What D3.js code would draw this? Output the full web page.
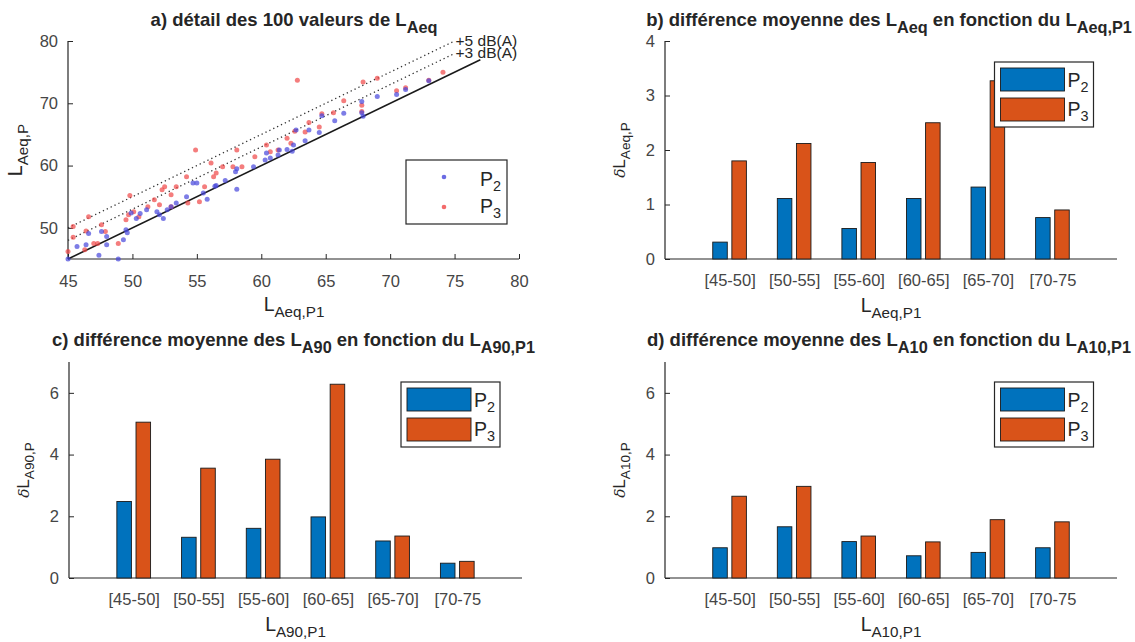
<!DOCTYPE html>
<html><head><meta charset="utf-8">
<script src="https://cdn.jsdelivr.net/npm/d3@7"></script>
<style>
body{margin:0;background:#fff;}
svg{display:block;font-family:"Liberation Sans",Arial,Helvetica,sans-serif;}
</style></head>
<body>
<svg id="chart" width="1135" height="642"></svg>
<script>
// ---------- DATA ----------
const categories = ["[45-50]","[50-55]","[55-60]","[60-65]","[65-70]","[70-75"];
const seriesNames = ["P2","P3"];
const b_P2 = [0.31,1.11,0.56,1.11,1.32,0.76];
const b_P3 = [1.80,2.12,1.77,2.50,3.27,0.90];
const c_P2 = [2.48,1.32,1.61,1.98,1.20,0.48];
const c_P3 = [5.05,3.56,3.85,6.28,1.36,0.54];
const d_P2 = [0.98,1.66,1.18,0.72,0.83,0.98];
const d_P3 = [2.65,2.97,1.36,1.17,1.89,1.82];
const scatterXTicks = [45,50,55,60,65,70,75,80];
const scatterYTicks = [50,60,70,80];
const refLines = [{offset:0,x0:45,x1:77},{offset:3,x0:45,x1:75},{offset:5,x0:45,x1:75}];
const refLabels = [{text:"+5 dB(A)",x:75,y:80},{text:"+3 dB(A)",x:75,y:78}];
// [L_Aeq,P1 , L_Aeq,P2]
const scatterP2 = [[45.0,45.0],[45.7,47.0],[46.4,47.3],[46.6,49.1],[47.4,45.6],[47.6,49.4],[48.0,48.6],[48.0,47.3],[48.9,45.0],[49.3,48.1],[49.5,49.7],[49.6,49.2],[49.9,52.4],[50.3,51.5],[50.6,52.3],[51.1,52.9],[51.9,52.6],[52.1,52.1],[52.4,51.5],[52.7,52.9],[53.0,53.4],[53.4,54.0],[54.2,55.0],[54.7,57.2],[55.0,57.2],[55.8,54.6],[55.5,55.6],[56.4,56.7],[56.5,56.8],[57.2,57.6],[58.1,56.2],[58.0,59.0],[58.1,59.5],[59.4,59.8],[60.3,60.9],[60.4,62.0],[60.7,61.2],[61.3,61.7],[61.4,62.5],[62.0,62.6],[62.4,62.3],[62.5,63.3],[62.7,65.7],[63.4,64.0],[63.7,65.7],[64.5,65.3],[64.7,68.0],[65.7,67.2],[66.4,68.4],[67.8,68.5],[67.8,70.3],[67.9,67.9],[69.0,71.1],[70.5,71.4],[71.2,72.2],[73.0,73.6]];
// [L_Aeq,P1 , L_Aeq,P3]
const scatterP3 = [[45.0,46.2],[45.4,50.2],[45.4,48.5],[46.6,51.8],[46.4,49.5],[46.3,46.5],[47.0,47.5],[47.3,47.5],[47.6,50.5],[47.9,49.4],[48.9,47.5],[49.8,55.2],[49.7,52.1],[50.1,52.6],[49.5,51.3],[50.5,51.8],[51.2,53.4],[51.7,54.5],[52.3,56.1],[52.5,56.6],[52.1,53.7],[53.0,53.4],[53.0,55.3],[53.4,56.6],[54.2,58.2],[54.9,62.5],[54.3,54.0],[55.2,54.2],[55.6,56.6],[56.1,60.4],[56.3,58.2],[56.5,58.8],[57.0,59.8],[58.1,62.5],[57.8,59.8],[58.5,59.8],[59.5,61.4],[60.4,63.3],[60.7,62.2],[61.3,62.5],[62.0,64.4],[62.3,63.6],[62.6,65.5],[62.8,73.7],[63.4,65.4],[63.7,66.9],[64.5,66.2],[64.7,68.3],[65.6,68.5],[66.4,70.4],[67.8,69.7],[67.8,68.7],[67.9,73.4],[69.0,74.0],[70.5,72.0],[71.2,72.5],[73.0,73.7],[74.1,75.0]];

// ---------- STYLE ----------
const AX = "#262626", TXT = "#454545";
const BLUE = "#0072BD", ORANGE = "#D95319";
const svg = d3.select("#chart");

// parts: string = normal, [string] = subscript, {t, it} = italic normal
function rich(g, x, y, parts, o){
  o = o||{};
  const fs = o.size||16, sub = fs*(o.sub||0.74), drop = fs*(o.drop||0.33);
  const t = g.append("text").attr("x",x).attr("y",y)
    .attr("font-size",fs).attr("fill",o.fill||AX)
    .attr("font-weight",o.bold?"bold":"normal")
    .attr("text-anchor",o.anchor||"middle");
  if(o.rotate) t.attr("transform",`rotate(-90,${x},${y})`);
  let shifted=false;
  parts.forEach(p=>{
    const isSub = Array.isArray(p);
    const isIt = !isSub && typeof p==="object";
    const s = isSub? p[0] : (isIt? p.t : p);
    const ts = t.append("tspan").text(s);
    if(isIt) ts.attr("font-style","italic").attr("font-family","'DejaVu Serif',serif").attr("font-size",fs*0.9);
    if(isSub){ ts.attr("font-size",sub).attr("dy", shifted?0:drop); shifted=true; }
    else { ts.attr("dy", shifted? -drop : 0); shifted=false; }
  });
  return t;
}

function axesFrame(g, x, y, yTicks){
  const [x0,x1]=x.range(), [y0,y1]=y.range();
  const ya = d3.axisLeft(y).tickValues(yTicks).tickFormat(d3.format("d")).tickSizeInner(-5).tickSizeOuter(0).tickPadding(10);
  const gy = g.append("g").attr("transform",`translate(${x0},0)`).call(ya);
  gy.select(".domain").remove();
  g.append("line").attr("x1",x0).attr("x2",x0).attr("y1",y0).attr("y2",y1).attr("stroke",AX).attr("stroke-width",1.2);
  g.append("line").attr("x1",x0).attr("x2",x1).attr("y1",y0).attr("y2",y0).attr("stroke",AX).attr("stroke-width",1.2);
  gy.selectAll(".tick line").attr("stroke",AX);
  gy.selectAll(".tick text").attr("font-size",16.5).attr("fill",TXT).attr("font-family",null);
  return gy;
}

// ---------- PANEL A ----------
(function(){
  const g = svg.append("g");
  const x = d3.scaleLinear().domain([45,80]).range([68,519]);
  const y = d3.scaleLinear().domain([45,80]).range([259,41]);
  axesFrame(g,x,y,scatterYTicks);
  const xa = d3.axisBottom(x).tickValues(scatterXTicks).tickFormat(d3.format("d")).tickSizeInner(-5).tickSizeOuter(0).tickPadding(28);
  const gx = g.append("g").attr("transform",`translate(0,259)`).call(xa);
  gx.select(".domain").remove();
  gx.selectAll(".tick line").attr("stroke",AX);
  gx.selectAll(".tick text").attr("font-size",16.5).attr("fill",TXT).attr("font-family",null).attr("dy","0");

  refLines.forEach(r=>{
    g.append("line").attr("x1",x(r.x0)).attr("y1",y(r.x0+r.offset))
      .attr("x2",x(r.x1)).attr("y2",y(r.x1+r.offset))
      .attr("stroke", r.offset===0? "#1a1a1a":"#333")
      .attr("stroke-width", r.offset===0?1.6:1.3)
      .attr("stroke-dasharray", r.offset===0? null : "1.3,3");
  });
  refLabels.forEach(l=>{
    g.append("text").attr("x",x(l.x)+1).attr("y",y(l.y)+5).attr("font-size",15.5).attr("fill",AX).text(l.text);
  });
  g.append("g").selectAll("circle").data(scatterP3).join("circle")
    .attr("cx",d=>x(d[0])).attr("cy",d=>y(d[1])).attr("r",2.5).attr("fill","#f04646").attr("fill-opacity",0.7);
  g.append("g").selectAll("circle").data(scatterP2).join("circle")
    .attr("cx",d=>x(d[0])).attr("cy",d=>y(d[1])).attr("r",2.5).attr("fill","#4646dc").attr("fill-opacity",0.7);

  const lg = g.append("g");
  lg.append("rect").attr("x",406).attr("y",160).attr("width",101).attr("height",64).attr("fill","#fff").attr("stroke",AX).attr("stroke-width",1.2);
  lg.append("circle").attr("cx",444).attr("cy",177).attr("r",2.3).attr("fill","#4646dc").attr("fill-opacity",0.8);
  lg.append("circle").attr("cx",444).attr("cy",207).attr("r",2.3).attr("fill","#f04646").attr("fill-opacity",0.8);
  rich(lg,480,186,["P",["2"]],{size:19.5,anchor:"start",drop:0.28});
  rich(lg,480,213,["P",["3"]],{size:19.5,anchor:"start",drop:0.28});

  rich(g,294,26,["a) détail des 100 valeurs de L",["Aeq"]],{size:18.5,bold:true,drop:0.36,sub:0.88});
  rich(g,294,311,["L",["Aeq,P1"]],{size:19.5,drop:0.3,sub:0.78});
  rich(g,22,150,["L",["Aeq,P"]],{size:19.5,rotate:true,drop:0.3,sub:0.78});
})();

// ---------- BAR PANELS ----------
function barPanel(cfg){
  const g = svg.append("g");
  const x = d3.scaleLinear().domain([0,7]).range(cfg.xr);
  const y = d3.scaleLinear().domain([0,cfg.ymax]).range(cfg.yr);
  axesFrame(g,x,y,cfg.yTicks);
  const xa = d3.axisBottom(x).tickValues(d3.range(1,categories.length+1)).tickFormat((d,i)=>categories[i]).tickSize(0).tickPadding(27);
  const gx = g.append("g").attr("transform",`translate(0,${cfg.yr[0]})`).call(xa);
  gx.select(".domain").remove();
  gx.selectAll(".tick text").attr("font-size",16.5).attr("fill",TXT).attr("font-family",null).attr("dy","0");
  const bw = 0.225, off = 0.148;
  const series = [{v:cfg.p2,c:BLUE,o:-off},{v:cfg.p3,c:ORANGE,o:off}];
  series.forEach(s=>{
    g.append("g").selectAll("rect").data(s.v).join("rect")
      .attr("x",(d,i)=>x(i+1+s.o-bw/2)).attr("width",x(bw)-x(0))
      .attr("y",d=>y(d)).attr("height",d=>y(0)-y(d))
      .attr("fill",s.c).attr("stroke","#1a1a1a").attr("stroke-width",0.9);
  });
  const [lx,ly]=cfg.leg;
  const lg = g.append("g");
  lg.append("rect").attr("x",lx).attr("y",ly).attr("width",99).attr("height",65).attr("fill","#fff").attr("stroke",AX).attr("stroke-width",1.2);
  lg.append("rect").attr("x",lx+6).attr("y",ly+6).attr("width",64).attr("height",23).attr("fill",BLUE).attr("stroke","#1a1a1a").attr("stroke-width",0.9);
  lg.append("rect").attr("x",lx+6).attr("y",ly+36).attr("width",64).attr("height",23).attr("fill",ORANGE).attr("stroke","#1a1a1a").attr("stroke-width",0.9);
  rich(lg,lx+73,ly+25,["P",["2"]],{size:19.5,anchor:"start",drop:0.28});
  rich(lg,lx+73,ly+54,["P",["3"]],{size:19.5,anchor:"start",drop:0.28});
  const cx=(cfg.xr[0]+cfg.xr[1])/2;
  rich(g,cx-2,cfg.titleY,cfg.title,{size:18.5,bold:true,drop:0.36,sub:0.88});
  rich(g,cx,cfg.yr[0]+53,cfg.xlab,{size:19.5,drop:0.3,sub:0.78});
  rich(g,cfg.xr[0]-40,(cfg.yr[0]+cfg.yr[1])/2,cfg.ylab,{size:17,rotate:true,drop:0.3,sub:0.8});
}

barPanel({xr:[665,1117],yr:[259,41],ymax:4,yTicks:[0,1,2,3,4],p2:b_P2,p3:b_P3,leg:[994.5,62],titleY:26,
  title:["b) différence moyenne des L",["Aeq"]," en fonction du L",["Aeq,P1"]],
  xlab:["L",["Aeq,P1"]], ylab:[{t:"δ"},"L",["Aeq,P"]]});
barPanel({xr:[69,522],yr:[578,362],ymax:7,yTicks:[0,2,4,6],p2:c_P2,p3:c_P3,leg:[401,382],titleY:346,
  title:["c) différence moyenne des L",["A90"]," en fonction du L",["A90,P1"]],
  xlab:["L",["A90,P1"]], ylab:[{t:"δ"},"L",["A90,P"]]});
barPanel({xr:[665,1117],yr:[578,362],ymax:7,yTicks:[0,2,4,6],p2:d_P2,p3:d_P3,leg:[994.5,382],titleY:346,
  title:["d) différence moyenne des L",["A10"]," en fonction du L",["A10,P1"]],
  xlab:["L",["A10,P1"]], ylab:[{t:"δ"},"L",["A10,P"]]});
</script>
</body></html>
